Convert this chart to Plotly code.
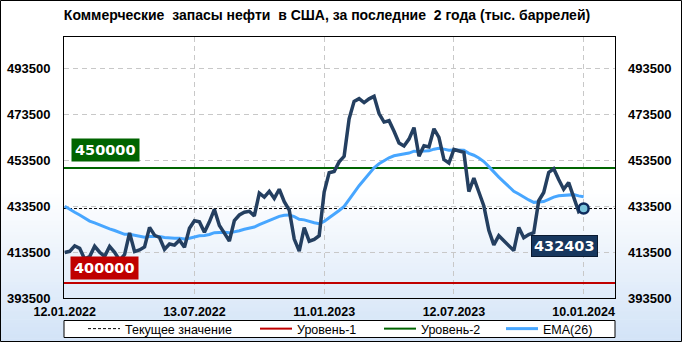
import plotly.graph_objects as go
import pandas as pd

# ---------------- data ----------------
title_text = "Коммерческие\u00a0 запасы нефти\u00a0 в США, за последние\u00a0 2 года (тыс. баррелей)"
start_date = "2022-01-12"

stocks = [
    413300, 413800, 416200, 415100, 410400, 411500, 416000, 413400, 411600, 415900,
    413400, 409900, 412400, 421800, 413700, 414400, 415700, 424200, 420800, 419800,
    414700, 417000, 416500, 418600, 415600, 423800, 427100, 426600, 422100, 426600,
    432000, 425000, 421700, 418300, 427200, 429600, 430800, 431200, 429200, 439100,
    437400, 439900, 436800, 440800, 435400, 431700, 419100, 413900, 424100, 418200,
    419000, 420600, 439600, 448000, 448500, 452700, 455100, 471400, 479000, 480200,
    478500, 480100, 481200, 473700, 470000, 470600, 466000, 460900, 459600, 462600,
    467600, 455200, 459700, 459200, 467100, 463300, 453700, 452200, 458100, 457400,
    456800, 439800, 445600, 439600, 433500, 422900, 416600, 420600, 418500, 416300,
    414100, 424200, 419700, 421100, 421900, 435800, 439400, 448100, 449700, 445000,
    440800, 443700, 437000, 431100, 432403,
]

ema26 = [
    433400, 431950, 430780, 429620, 428200, 426960, 426150, 425210, 424200, 423590,
    422840, 421880, 421180, 421230, 420670, 420210, 419880, 420200, 420240, 420210,
    419800, 419570, 419510, 419450, 419160, 419500, 420060, 420540, 420660, 421100,
    421910, 422140, 422110, 421830, 422230, 422780, 423370, 423950, 424340, 425430,
    426320, 427330, 428030, 428980, 429460, 429630, 428850, 427740, 427470, 426780,
    426200, 425790, 426810, 428380, 429870, 431560, 433300, 436120, 439300, 442330,
    445010, 447610, 450100, 451850, 453190, 454480, 455330, 455740, 456030, 456520,
    457340, 457180, 457370, 457510, 458220, 458600, 458240, 457790, 457810, 457780,
    457710, 456380, 455580, 454400, 452850, 450630, 448110, 446070, 444030, 441980,
    439910, 438750, 437340, 436140, 435090, 435140, 435460, 436400, 437390, 437950,
    438160, 438570, 438450, 437910, 437500,
]

level1 = 400000
level2 = 450000
y_ticks = [393500, 413500, 433500, 453500, 473500, 493500]
x_tick_dates = ["2022-01-12", "2022-07-13", "2023-01-11", "2023-07-12", "2024-01-10"]
x_tick_labels = ["12.01.2022", "13.07.2022", "11.01.2023", "12.07.2023", "10.01.2024"]
legend_names = ["Текущее значение", "Уровень-1", "Уровень-2", "EMA(26)"]

# ---------------- layout geometry ----------------
W, H = 682, 342
ML, MR, MT, MB = 64, 67, 37, 44
PW = W - ML - MR
PH = H - MT - MB
x_range = ["2022-01-11", "2024-02-23"]
y_range = [393500, 507000]


def ppx(p):
    return (p - ML) / PW


def ppy(p):
    return (H - MB - p) / PH


dates = pd.date_range(start_date, periods=len(stocks), freq="7D")
last_val = stocks[-1]

FONT = "Liberation Sans, Arial, sans-serif"
NAVY = "#243F60"
EMA_C = "#47A6FF"
RED = "#C00000"
GREEN = "#006400"

fig = go.Figure()

fig.add_trace(go.Scatter(
    x=x_range, y=[last_val, last_val], mode="lines", name=legend_names[0],
    line=dict(color="black", width=1, dash="3px,2px"), legend="legend",
    hoverinfo="skip"))
fig.add_trace(go.Scatter(
    x=x_range, y=[level1, level1], mode="lines", name=legend_names[1],
    line=dict(color=RED, width=2), legend="legend2", hoverinfo="skip"))
fig.add_trace(go.Scatter(
    x=x_range, y=[level2, level2], mode="lines", name=legend_names[2],
    line=dict(color=GREEN, width=2), legend="legend3", hoverinfo="skip"))
fig.add_trace(go.Scatter(
    x=dates, y=ema26, mode="lines", name=legend_names[3],
    line=dict(color=EMA_C, width=3), legend="legend4"))
fig.add_trace(go.Scatter(
    x=dates, y=stocks, mode="lines", name="stocks", showlegend=False,
    line=dict(color=NAVY, width=3.5)))
fig.add_trace(go.Scatter(
    x=[dates[-1]], y=[last_val], mode="markers", showlegend=False, yaxis="y2",
    marker=dict(size=10, color="#7CC5DC", line=dict(color="#0D2A5C", width=2.5))))

# ---------------- shapes: gradient background, legend box, border -------------
shapes = []
N = 40
g_top, g_bot = 190, H
c0 = (255, 255, 255)
c1 = (210, 227, 247)
for i in range(N):
    y0 = g_top + (g_bot - g_top) * i / N
    y1 = g_top + (g_bot - g_top) * (i + 1) / N + 0.5
    t = (i + 0.5) / N
    col = "rgb(%d,%d,%d)" % tuple(round(a + (b - a) * t) for a, b in zip(c0, c1))
    shapes.append(dict(type="rect", xref="paper", yref="paper", x0=ppx(0), x1=ppx(W),
                       y0=ppy(y1), y1=ppy(y0), fillcolor=col, line=dict(width=0),
                       layer="below"))
shapes.append(dict(type="rect", xref="paper", yref="paper", x0=0, x1=1,
                   y0=ppy(337.5), y1=ppy(320.5), fillcolor="white",
                   line=dict(color="black", width=1), layer="below"))
shapes.append(dict(type="rect", xref="paper", yref="paper", x0=ppx(0.5), x1=ppx(W - 0.5),
                   y0=ppy(H - 0.5), y1=ppy(0.5), fillcolor="rgba(0,0,0,0)",
                   line=dict(color="black", width=1), layer="above"))

# ---------------- annotations ----------------
ann_font = dict(family="DejaVu Sans, sans-serif", size=14.5, color="white", weight="bold")
annotations = [
    dict(text=str(level2), xref="paper", x=ppx(71), xanchor="left", yref="y", y=level2,
         yanchor="bottom", yshift=6, showarrow=False, bgcolor=GREEN, borderpad=3,
         font=ann_font),
    dict(text=str(level1), xref="paper", x=ppx(70), xanchor="left", yref="y", y=level1,
         yanchor="bottom", yshift=3, showarrow=False, bgcolor=RED, borderpad=3,
         font=ann_font),
    dict(text=str(last_val), xref="x", x=dates[-1], xanchor="right", xshift=14,
         yref="y", y=last_val, yanchor="top", yshift=-26, showarrow=False,
         bgcolor="#17375E", bordercolor="#0A1A30", borderwidth=1, borderpad=2,
         font=ann_font),
]

leg_common = dict(orientation="h", yanchor="middle", y=ppy(329), xanchor="left",
                  bgcolor="rgba(0,0,0,0)", borderwidth=0, itemwidth=32,
                  font=dict(family=FONT, size=12.5, color="black"))
sym_starts = [88, 260, 384, 506]

tick_font = dict(family=FONT, size=13, color="black", weight="bold")
grid_c = "#C8C8C8"

fig.update_layout(
    width=W, height=H, autosize=False,
    margin=dict(l=ML, r=MR, t=MT, b=MB, pad=0, autoexpand=False),
    paper_bgcolor="rgba(0,0,0,0)", plot_bgcolor="rgba(0,0,0,0)",
    title=dict(text=title_text, x=327 / W, xanchor="center", xref="container",
               y=1 - 15 / H, yanchor="middle", yref="container",
               font=dict(family=FONT, size=14, color="black", weight="bold")),
    xaxis=dict(type="date", range=x_range, tickvals=x_tick_dates, ticktext=x_tick_labels,
               showgrid=True, gridcolor=grid_c, griddash="5px,4px", gridwidth=1,
               showline=True, mirror=True, linecolor="black", linewidth=1,
               ticks="", tickfont=dict(family=FONT, size=12.5, color="black", weight="bold"),
               ticklabelstandoff=2, zeroline=False, fixedrange=True),
    yaxis=dict(range=y_range, tickvals=y_ticks, tickformat="d",
               showgrid=True, gridcolor=grid_c, griddash="5px,4px", gridwidth=1,
               showline=True, mirror=True, linecolor="black", linewidth=1,
               ticks="", tickfont=tick_font, ticklabelstandoff=10, zeroline=False),
    yaxis2=dict(range=y_range, tickvals=y_ticks, tickformat="d", overlaying="y",
                side="right", showgrid=False, showline=False, ticks="",
                tickfont=tick_font, ticklabelstandoff=12, zeroline=False),
    legend=dict(leg_common, x=ppx(sym_starts[0] - 5)),
    legend2=dict(leg_common, x=ppx(sym_starts[1] - 5)),
    legend3=dict(leg_common, x=ppx(sym_starts[2] - 5)),
    legend4=dict(leg_common, x=ppx(sym_starts[3] - 5)),
    shapes=shapes,
    annotations=annotations,
    showlegend=True,
)

fig.write_html("out.html")
